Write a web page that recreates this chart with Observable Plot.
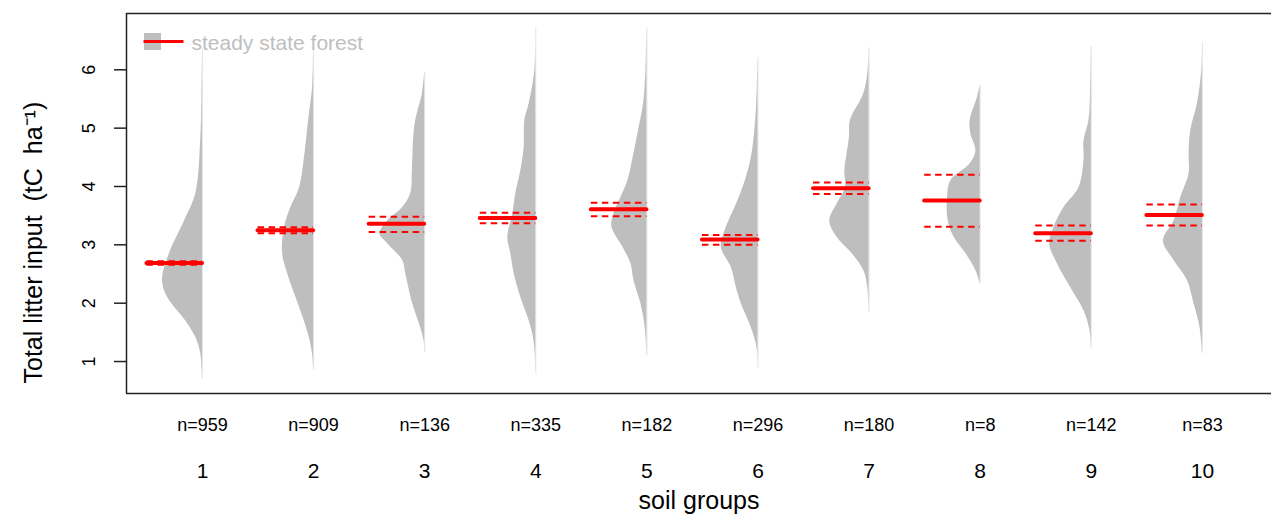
<!DOCTYPE html>
<html>
<head>
<meta charset="utf-8">
<script src="https://cdn.jsdelivr.net/npm/d3@7"></script>
<script src="https://cdn.jsdelivr.net/npm/@observablehq/plot@0.6"></script>
<style>
  html, body { margin: 0; padding: 0; background: #fff; }
</style>
</head>
<body>
<div id="chart"></div>
<script>
// Soil groups and number of plots in each
const groups = [1, 2, 3, 4, 5, 6, 7, 8, 9, 10];
const counts = [959, 909, 136, 335, 182, 296, 180, 8, 142, 83];

// Mean total litter input (tC/ha) with its confidence interval
const means  = [2.69, 3.25, 3.36, 3.46, 3.61, 3.09, 3.97, 3.76, 3.20, 3.51];
const ciLow  = [2.66, 3.20, 3.22, 3.37, 3.49, 3.00, 3.87, 3.31, 3.07, 3.33];
const ciHigh = [2.72, 3.30, 3.48, 3.55, 3.72, 3.17, 4.07, 4.20, 3.33, 3.69];

const yTicks = [1, 2, 3, 4, 5, 6];

// Density profiles: [litter input, half-width in group units], top to bottom
const density1  = [[6.35, 0], [5.50, 0.005], [4.84, 0.015], [3.88, 0.06], [3.41, 0.162], [2.85, 0.297], [2.39, 0.36], [2.10, 0.315], [1.70, 0.153], [1.41, 0.06], [1.13, 0.015], [0.70, 0]];
const density2  = [[6.33, 0], [5.70, 0.009], [5.13, 0.045], [4.56, 0.078], [3.98, 0.126], [3.64, 0.205], [3.30, 0.261], [2.85, 0.279], [2.51, 0.234], [2.16, 0.171], [1.70, 0.084], [1.41, 0.039], [1.13, 0.009], [0.85, 0]];
const density3  = [[5.95, 0], [5.59, 0.021], [5.13, 0.081], [4.84, 0.099], [4.27, 0.111], [3.88, 0.126], [3.64, 0.198], [3.41, 0.333], [3.19, 0.403], [3.02, 0.333], [2.73, 0.198], [2.51, 0.171], [1.99, 0.108], [1.58, 0.036], [1.36, 0.006], [1.15, 0]];
const density4  = [[6.72, 0], [5.98, 0.009], [5.42, 0.06], [5.13, 0.099], [4.67, 0.105], [4.27, 0.135], [3.88, 0.18], [3.53, 0.207], [3.13, 0.252], [2.85, 0.225], [2.51, 0.195], [2.10, 0.135], [1.70, 0.06], [1.41, 0.021], [1.13, 0.005], [0.79, 0]];
const density5  = [[6.72, 0], [5.98, 0.009], [5.42, 0.03], [5.02, 0.069], [4.56, 0.117], [4.10, 0.171], [3.81, 0.234], [3.53, 0.297], [3.30, 0.315], [2.96, 0.216], [2.68, 0.144], [2.39, 0.117], [1.99, 0.054], [1.58, 0.015], [1.10, 0]];
const density6  = [[6.21, 0], [5.70, 0.006], [5.13, 0.021], [4.56, 0.054], [4.10, 0.114], [3.64, 0.207], [3.30, 0.285], [2.96, 0.33], [2.61, 0.24], [2.27, 0.195], [1.99, 0.15], [1.58, 0.06], [1.24, 0.009], [0.88, 0]];
const density7  = [[6.38, 0], [5.98, 0.009], [5.59, 0.048], [5.13, 0.168], [4.84, 0.177], [4.56, 0.198], [4.27, 0.219], [3.98, 0.213], [3.70, 0.288], [3.41, 0.354], [3.13, 0.288], [2.85, 0.153], [2.56, 0.048], [2.27, 0.012], [1.84, 0]];
const density8  = [[5.73, 0], [5.53, 0.024], [5.13, 0.09], [4.90, 0.084], [4.61, 0.039], [4.39, 0.09], [4.10, 0.264], [3.81, 0.294], [3.41, 0.288], [3.13, 0.234], [2.85, 0.129], [2.56, 0.039], [2.33, 0]];
const density9  = [[6.41, 0], [5.70, 0.006], [5.13, 0.021], [4.78, 0.066], [4.44, 0.066], [3.98, 0.111], [3.64, 0.246], [3.30, 0.336], [3.02, 0.375], [2.68, 0.306], [2.27, 0.186], [1.87, 0.066], [1.53, 0.012], [1.22, 0]];
const density10 = [[6.47, 0], [5.98, 0.006], [5.42, 0.045], [4.96, 0.105], [4.56, 0.12], [4.22, 0.12], [3.81, 0.195], [3.41, 0.255], [3.07, 0.351], [2.73, 0.255], [2.39, 0.135], [1.99, 0.075], [1.58, 0.021], [1.14, 0]];
const densities = [density1, density2, density3, density4, density5, density6, density7, density8, density9, density10];

const legendLabel = "steady state forest";

// Tables for the marks
const violinRows = densities.flatMap((profile, i) =>
  profile.map(([value, half]) => ({group: groups[i], value, half})));
const extents = densities.map((profile, i) =>
  ({group: groups[i], top: profile[0][0], bottom: profile[profile.length - 1][0]}));
const summary = groups.map((g, i) =>
  ({group: g, n: counts[i], mean: means[i], lo: ciLow[i], hi: ciHigh[i]}));

const xDomain = [0.316, 10.622];
const yDomain = [0.452, 6.965];
const gray = "#bebebe";
const ink = "#222";

// Horizontal legend stroke drawn as a custom dot symbol
const dash = {
  draw(context, size) {
    const r = Math.sqrt(size / Math.PI);
    context.moveTo(-r, 0);
    context.lineTo(r, 0);
  }
};

const chart = Plot.plot({
  width: 1271,
  height: 516,
  marginLeft: 126,
  marginRight: 0,
  marginTop: 13,
  marginBottom: 123,
  style: {fontFamily: "'Liberation Sans', Arial, sans-serif", background: "#fff"},
  x: {domain: xDomain, axis: null},
  y: {domain: yDomain, axis: null},
  marks: [
    // half violins
    Plot.ruleX(extents, {x: "group", y1: "bottom", y2: "top", stroke: gray, strokeOpacity: 0.4, strokeWidth: 1}),
    Plot.areaX(violinRows, {x1: d => d.group - d.half, x2: "group", y: "value", z: "group", fill: gray, curve: "catmull-rom"}),
    // confidence interval and mean
    Plot.ruleY(summary, {x1: d => d.group - 0.5, x2: "group", y: "lo", stroke: "red", strokeWidth: 2, strokeDasharray: "6.5,4.5"}),
    Plot.ruleY(summary, {x1: d => d.group - 0.5, x2: "group", y: "hi", stroke: "red", strokeWidth: 2, strokeDasharray: "6.5,4.5"}),
    Plot.ruleY(summary, {x1: d => d.group - 0.5, x2: "group", y: "mean", stroke: "red", strokeWidth: 4, strokeLinecap: "round"}),
    // box (left, top, bottom)
    Plot.ruleX([xDomain[0]], {stroke: ink, strokeWidth: 1.5}),
    Plot.ruleY(yDomain, {stroke: ink, strokeWidth: 1.5}),
    // y axis
    Plot.axisY({ticks: yTicks, tickSize: 12, tickFormat: () => "", stroke: ink, strokeWidth: 1.5}),
    Plot.text(yTicks, {y: d => d, text: d => String(d), frameAnchor: "left", rotate: -90, dx: -32,
      textAnchor: "middle", lineAnchor: "bottom", fontSize: 18, fill: "#000"}),
    Plot.text(["Total litter input  (tC  ha\u207B\u00B9)"], {frameAnchor: "bottom-left", rotate: -90, dx: -85, dy: -10,
      textAnchor: "start", lineAnchor: "bottom", fontSize: 25, fill: "#000"}),
    // x labels
    Plot.text(summary, {x: "group", text: d => `n=${d.n}`, frameAnchor: "bottom", dy: 37,
      lineAnchor: "bottom", fontSize: 18, fill: "#000"}),
    Plot.text(summary, {x: "group", text: d => String(d.group), frameAnchor: "bottom", dy: 84,
      lineAnchor: "bottom", fontSize: 21, fill: "#000"}),
    Plot.text(["soil groups"], {frameAnchor: "bottom", dy: 115, lineAnchor: "bottom", fontSize: 25, fill: "#000"}),
    // legend
    Plot.dot([legendLabel], {frameAnchor: "top-left", dx: 26, dy: 28, symbol: "square", r: 9.6, fill: gray, stroke: null}),
    Plot.dot([legendLabel], {frameAnchor: "top-left", dx: 37, dy: 28, symbol: dash, r: 20, fill: "none", stroke: "red", strokeWidth: 3}),
    Plot.text([legendLabel], {frameAnchor: "top-left", dx: 65, dy: 36, textAnchor: "start", lineAnchor: "bottom",
      fontSize: 21, fill: gray})
  ]
});

document.getElementById("chart").appendChild(chart);
</script>
</body>
</html>
